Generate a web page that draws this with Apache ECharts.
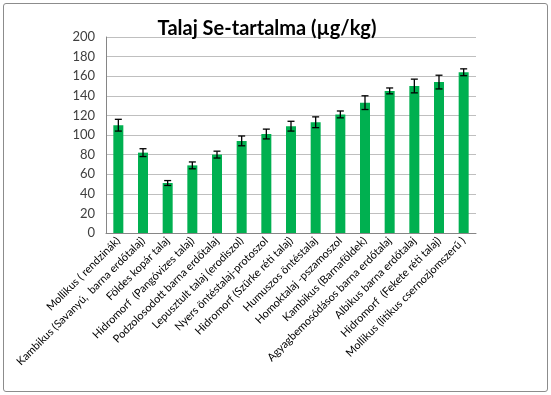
<!DOCTYPE html>
<html>
  <head>
    <meta charset="utf-8" />
    <title>Talaj Se-tartalma</title>
    <script src="https://cdn.jsdelivr.net/npm/echarts@6/dist/echarts.min.js"></script>
    <style>
      html, body { margin: 0; padding: 0; background: #fff; }
      #frame {
        position: absolute; left: 3px; top: 3px; width: 543px; height: 387px;
        border: 1px solid #8c8c8c; border-radius: 3px;
      }
      #main { position: absolute; left: 0; top: 0; width: 551px; height: 395px; }
    </style>
  </head>
  <body>
    <div id="frame"></div>
    <div id="main"></div>
    <script type="text/javascript">
      var categories = [
        "Mollikus ( rendzinák)",
        "Kambikus (Savanyú,  barna erdőtalaj)",
        "Földes kopár talaj",
        "Hidromorf  (Pangóvizes talaj)",
        "Podzolosodott barna erdőtalaj",
        "Lepusztult talaj (erodiszol)",
        "Nyers öntéstalaj-protoszol",
        "Hidromorf (Szürke réti talaj)",
        "Humuszos öntéstalaj",
        "Homoktalaj -pszamoszol",
        "Kambikus (Barnaföldek)",
        "Agyagbemosódásos barna erdőtalaj",
        "Albikus barna erdőtalaj",
        "Hidromorf  (Fekete réti talaj)",
        "Mollikus (litikus csernozjomszerű )"
      ];
      var values = [110, 82, 51, 69, 80, 94, 101, 109, 113, 121, 133, 145, 150, 154, 164];
      var errors = [6, 4, 2.5, 3.5, 3.5, 5, 5, 5, 5.5, 3.5, 7, 3, 7, 7, 3.5];

      var font = "Lato, 'Liberation Sans', sans-serif";
      var myChart = echarts.init(document.getElementById("main"));

      var option = {
        animation: false,
        title: {
          text: "Talaj Se-tartalma (µg/kg)",
          left: 262,
          top: 14,
          textAlign: "center",
          textStyle: { fontFamily: font, fontSize: 20, fontWeight: "bold", color: "#000" }
        },
        grid: { left: 106, right: 75, top: 37, bottom: 162 },
        xAxis: {
          type: "category",
          data: categories,
          axisLine: { lineStyle: { color: "#868686" } },
          axisTick: { show: false },
          axisLabel: {
            rotate: 45,
            interval: 0,
            margin: 6,
            fontFamily: font,
            fontSize: 11,
            color: "#000"
          }
        },
        yAxis: {
          type: "value",
          min: 0,
          max: 200,
          interval: 20,
          axisLine: { show: true, lineStyle: { color: "#868686" } },
          axisTick: { show: false },
          splitLine: { lineStyle: { color: "#bfbfbf" } },
          axisLabel: { fontFamily: font, fontSize: 13, color: "#404040", margin: 11 }
        },
        series: [
          {
            type: "bar",
            data: values,
            barWidth: 10,
            itemStyle: { color: "#00b050" }
          },
          {
            type: "custom",
            data: values.map(function (v, i) { return [i, v - errors[i], v + errors[i]]; }),
            z: 10,
            renderItem: function (params, api) {
              var lo = api.coord([api.value(0), api.value(1)]);
              var hi = api.coord([api.value(0), api.value(2)]);
              var w = 3.5;
              var style = { stroke: "#000", lineWidth: 1.3 };
              return {
                type: "group",
                children: [
                  { type: "line", shape: { x1: hi[0], y1: hi[1], x2: lo[0], y2: lo[1] }, style: style },
                  { type: "line", shape: { x1: hi[0] - w, y1: hi[1], x2: hi[0] + w, y2: hi[1] }, style: style },
                  { type: "line", shape: { x1: lo[0] - w, y1: lo[1], x2: lo[0] + w, y2: lo[1] }, style: style }
                ]
              };
            }
          }
        ]
      };
      myChart.setOption(option);
    </script>
  </body>
</html>
